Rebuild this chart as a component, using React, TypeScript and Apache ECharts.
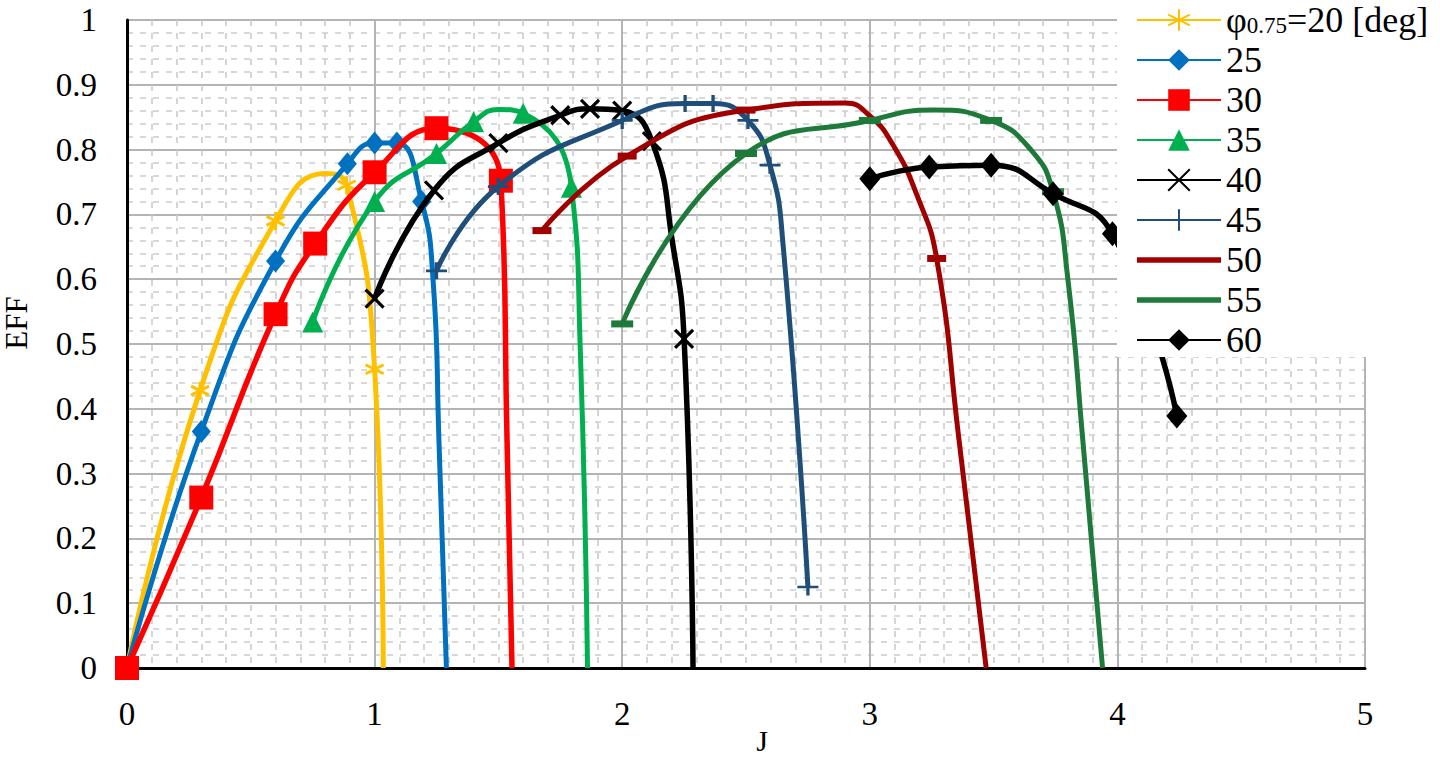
import React, { useEffect, useRef } from "react";
import * as echarts from "echarts";

// Series names (blade pitch angle phi_0.75 in deg)
const seriesNames = ["20", "25", "30", "35", "40", "45", "50", "55", "60"];
const seriesColors = ["#FFC000", "#0070C0", "#FF0000", "#00B050", "#000000", "#1F4E79", "#A00000", "#1D7A3A", "#000000"];

// [J, EFF, 1 = point with marker, 0 = curve point without marker]
const eff20 = [[0, 0, 1], [0.295, 0.428, 1], [0.6, 0.69, 1], [0.8, 0.763, 0], [0.887, 0.745, 1], [1.0, 0.461, 1], [1.035, 0, 0]];
const eff25 = [[0, 0, 1], [0.3, 0.365, 1], [0.6, 0.628, 1], [0.89, 0.778, 1], [1.0, 0.81, 1], [1.09, 0.81, 1], [1.19, 0.72, 1], [1.236, 0.6, 0], [1.26, 0.35, 0], [1.29, 0, 0]];
const eff30 = [[0, 0, 1], [0.3, 0.263, 1], [0.6, 0.546, 1], [0.76, 0.655, 1], [1.0, 0.765, 1], [1.25, 0.833, 1], [1.51, 0.752, 1], [1.535, 0.35, 0], [1.555, 0, 0]];
const eff35 = [[0.75, 0.534, 1], [1.0, 0.72, 1], [1.25, 0.794, 1], [1.4, 0.843, 1], [1.5, 0.862, 0], [1.6, 0.856, 1], [1.795, 0.742, 1], [1.83, 0.5, 0], [1.86, 0, 0]];
const eff40 = [[1.0, 0.57, 1], [1.24, 0.737, 1], [1.5, 0.81, 1], [1.75, 0.853, 1], [1.87, 0.863, 1], [2.0, 0.86, 1], [2.12, 0.813, 1], [2.205, 0.652, 0], [2.25, 0.508, 1], [2.286, 0, 0]];
const eff45 = [[1.25, 0.613, 1], [1.5, 0.743, 1], [2.0, 0.845, 1], [2.254, 0.871, 1], [2.367, 0.871, 1], [2.508, 0.845, 1], [2.597, 0.776, 1], [2.65, 0.652, 0], [2.75, 0.125, 1]];
const eff50 = [[1.676, 0.675, 1], [2.02, 0.79, 1], [2.5, 0.861, 1], [2.9, 0.872, 0], [3.0, 0.852, 0], [3.094, 0.807, 0], [3.19, 0.73, 0], [3.27, 0.632, 1], [3.36, 0.353, 0], [3.47, 0, 0]];
const eff55 = [[2.0, 0.531, 1], [2.5, 0.794, 1], [3.0, 0.845, 1], [3.26, 0.861, 0], [3.49, 0.845, 1], [3.65, 0.8, 0], [3.74, 0.735, 1], [3.8, 0.6, 0], [3.86, 0.353, 0], [3.94, 0, 0]];
const eff60 = [[3.0, 0.755, 1], [3.24, 0.773, 1], [3.49, 0.776, 1], [3.74, 0.732, 1], [3.98, 0.67, 1], [4.24, 0.389, 1]];

const xTicks = [0, 1, 2, 3, 4, 5];
const yTicks = [0, 0.1, 0.2, 0.3, 0.4, 0.5, 0.6, 0.7, 0.8, 0.9, 1];

const ASTERISK = "path://M10 0V20M1.34 5L18.66 15M18.66 5L1.34 15";
const CROSS = "path://M0 0L20 20M20 0L0 20";
const PLUS = "path://M10 0V20M0 10H20";
const BAR_ICON = "path://M0 0H84V5.5H0Z";

const FONT = "'Liberation Serif', 'Times New Roman', serif";

export default function App() {
  const ref = useRef<HTMLDivElement>(null);

  useEffect(() => {
    document.body.style.margin = "0";
    if (!ref.current) return;
    const chart = echarts.init(ref.current, null, { renderer: "svg" });

    const allData = [eff20, eff25, eff30, eff35, eff40, eff45, eff50, eff55, eff60];
    const symbols: any[] = [ASTERISK, "diamond", "rect", "triangle", CROSS, PLUS, "rect", "rect", "diamond"];
    const symbolSizes: any[] = [18, [19, 23], 24, 21, 18, [21, 17], [19, 7], [22, 7], [21, 25]];
    const borderWidths = [3, 0, 0, 0, 3.2, 3, 0, 0, 0];
    const lineWidths = [5, 5, 5.5, 5, 5.5, 5, 5, 5, 5.5];

    const series = seriesNames.map((name, i) => ({
      name,
      type: "line",
      smooth: 0.5,
      symbol: symbols[i],
      symbolSize: symbolSizes[i],
      showAllSymbol: true,
      lineStyle: { color: seriesColors[i], width: lineWidths[i] },
      itemStyle: { color: seriesColors[i], borderColor: seriesColors[i], borderWidth: borderWidths[i] },
      emphasis: { disabled: true },
      z: 2 + i * 0.01,
      data: allData[i].map((p) =>
        p[2] ? { value: [p[0], p[1]] } : { value: [p[0], p[1]], symbol: "none" }
      ),
    }));

    const option: any = {
      animation: false,
      backgroundColor: "#ffffff",
      grid: { left: 127, right: 75, top: 20, bottom: 91, containLabel: false },
      xAxis: {
        type: "value",
        min: xTicks[0],
        max: xTicks[xTicks.length - 1],
        interval: 1,
        axisLine: { show: true, onZero: false, lineStyle: { color: "#000", width: 3 } },
        axisTick: { show: false },
        minorTick: { show: false, splitNumber: 10 },
        axisLabel: { color: "#000", fontFamily: FONT, fontSize: 33, margin: 29 },
        splitLine: { show: true, lineStyle: { color: "#b4b4b4", width: 2 } },
        minorSplitLine: { show: true, lineStyle: { color: "#cbcbcb", width: 1.6, type: [6, 7] } },
      },
      yAxis: {
        type: "value",
        min: yTicks[0],
        max: yTicks[yTicks.length - 1],
        interval: 0.1,
        axisLine: { show: true, onZero: false, lineStyle: { color: "#000", width: 3 } },
        axisTick: { show: false },
        minorTick: { show: false, splitNumber: 5 },
        axisLabel: { color: "#000", fontFamily: FONT, fontSize: 33, margin: 30 },
        splitLine: { show: true, lineStyle: { color: "#b4b4b4", width: 2 } },
        minorSplitLine: { show: true, lineStyle: { color: "#cbcbcb", width: 1.6, type: [6, 7] } },
      },
      legend: {
        orient: "vertical",
        left: 1136,
        top: 2,
        z: 60,
        itemWidth: 84,
        itemHeight: 27,
        itemGap: 4,
        padding: 0,
        selectedMode: false,
        data: seriesNames.map((n) => (n === "50" || n === "55" ? { name: n, icon: BAR_ICON } : { name: n })),
        formatter: (name: string) => (name === "20" ? "{n|φ}{s|0.75}{n|=20 [deg]}" : name),
        textStyle: {
          color: "#000",
          fontFamily: FONT,
          fontSize: 36,
          lineHeight: 34,
          rich: {
            n: { color: "#000", fontFamily: FONT, fontSize: 36, lineHeight: 34 },
            s: { color: "#000", fontFamily: FONT, fontSize: 23, lineHeight: 26, verticalAlign: "bottom" },
          },
        },
      },
      graphic: [
        {
          type: "rect",
          z: 50,
          shape: { x: 1117, y: 0, width: 323, height: 357 },
          style: { fill: "#ffffff" },
          silent: true,
        },
        {
          type: "text",
          z: 50,
          x: 16,
          y: 323,
          rotation: Math.PI / 2,
          style: { text: "EFF", fontFamily: FONT, fontSize: 31, fill: "#000", align: "center", verticalAlign: "middle" },
        },
        {
          type: "text",
          z: 50,
          x: 762,
          y: 740,
          style: { text: "J", fontFamily: FONT, fontSize: 30, fill: "#000", align: "center", verticalAlign: "middle" },
        },
      ],
      series,
    };

    chart.setOption(option);
    return () => chart.dispose();
  }, []);

  return <div ref={ref} style={{ width: 1440, height: 759 }} />;
}
